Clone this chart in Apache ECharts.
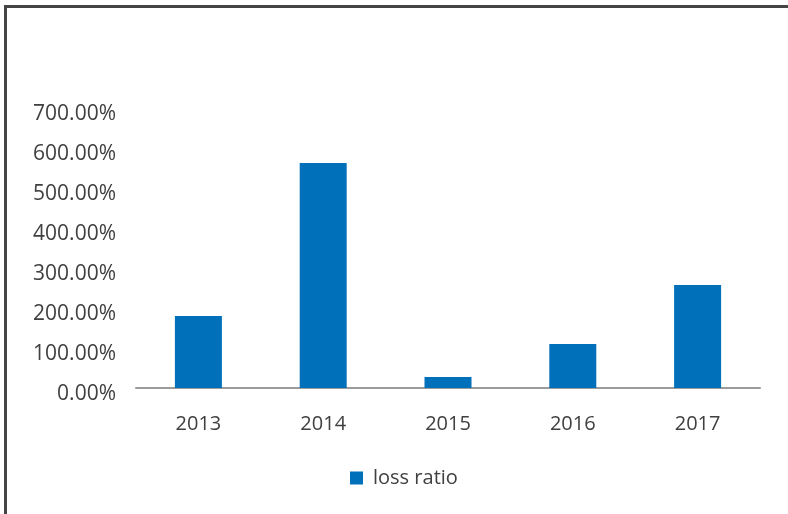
<!DOCTYPE html>
<html>
<head>
<meta charset="utf-8">
<script src="https://cdn.jsdelivr.net/npm/echarts@6/dist/echarts.min.js"></script>
<style>
  html, body { margin: 0; padding: 0; background: #fff; }
  #chart { width: 788px; height: 514px; }
</style>
</head>
<body>
<div id="chart"></div>
<script>
// chart data
var years = ['2013', '2014', '2015', '2016', '2017'];
var lossRatio = [180, 562.5, 27.5, 110, 257.5];   // percent
var seriesName = 'loss ratio';

var myChart = echarts.init(document.getElementById('chart'));

var option = {
    animation: false,
    textStyle: { fontFamily: 'Open Sans' },
    graphic: [{
        // outer frame, clipped by the window on the right and bottom
        type: 'rect',
        shape: { x: 5.5, y: 6.5, width: 1000, height: 1000 },
        style: { fill: 'none', stroke: '#454545', lineWidth: 3 }
    }],
    grid: { left: 136, top: 108, width: 624, height: 280 },
    legend: {
        data: [seriesName],
        left: 345,
        top: 463,
        itemWidth: 13,
        itemHeight: 13,
        icon: 'rect',
        textStyle: { fontSize: 20, color: '#404040', padding: [0, 0, 0, 5] }
    },
    xAxis: {
        type: 'category',
        data: years,
        axisLine: { lineStyle: { color: '#9b9b9b', width: 2 } },
        axisTick: { show: false },
        axisLabel: { fontSize: 20, color: '#404040', margin: 26 }
    },
    yAxis: {
        type: 'value',
        min: 0,
        max: 700,
        interval: 100,
        axisLine: { show: false },
        axisTick: { show: false },
        splitLine: { show: false },
        axisLabel: {
            fontSize: 21,
            color: '#404040',
            margin: 20,
            verticalAlign: 'top',
            lineHeight: 12,
            formatter: function (v) { return v.toFixed(2) + '%'; }
        }
    },
    series: [{
        name: seriesName,
        type: 'bar',
        data: lossRatio,
        barWidth: 47,
        itemStyle: { color: '#0070bb' }
    }]
};

myChart.setOption(option);
</script>
</body>
</html>
